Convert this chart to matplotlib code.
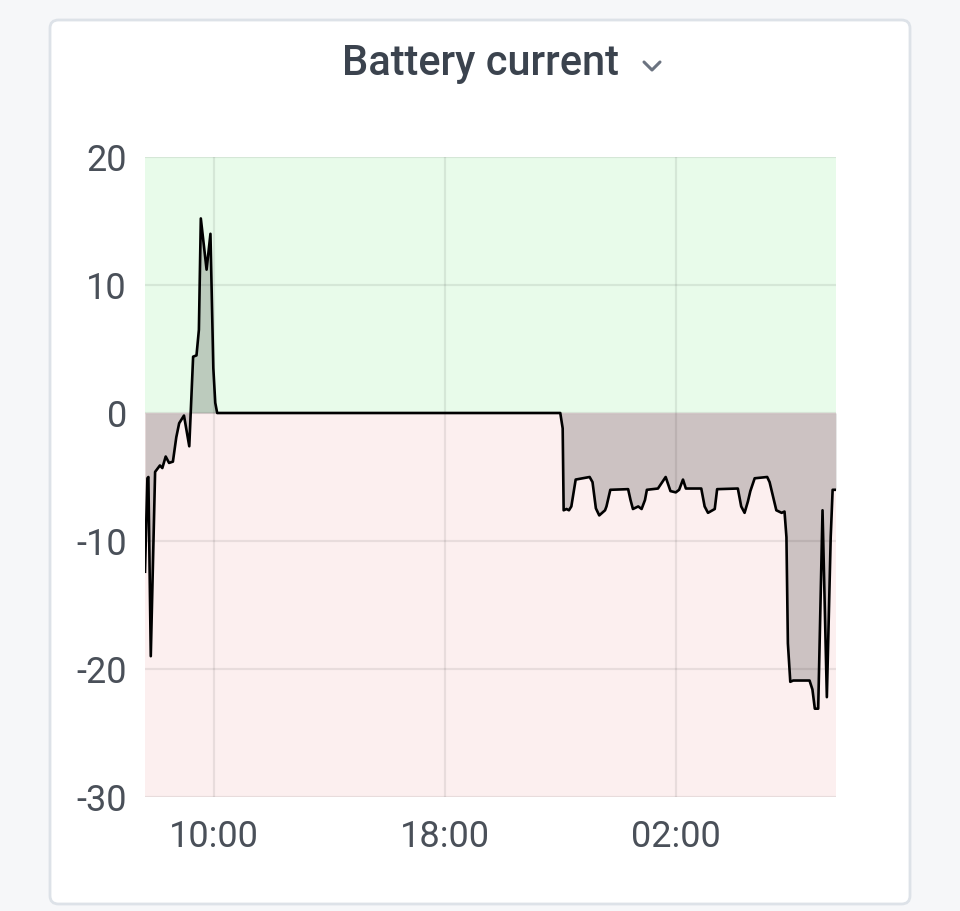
import matplotlib
matplotlib.use('Agg')
from matplotlib import pyplot as plt
import matplotlib.patches as patches
from matplotlib.lines import Line2D
import pandas as pd

plt.rcParams['font.family'] = ['Roboto', 'DejaVu Sans']
plt.rcParams['axes.unicode_minus'] = False

# Datos (hora local, corriente en A)
times = ['07:37', '07:42', '07:44', '07:49', '07:58', '08:08', '08:13', '08:20',
         '08:27', '08:35', '08:42', '08:48', '08:58', '09:09', '09:17', '09:24',
         '09:29', '09:33', '09:45', '09:53', '09:59', '10:03', '10:07', '22:00',
         '22:05', '22:07', '22:13', '22:18', '22:23', '22:32', '23:01', '23:07',
         '23:14', '23:21', '23:33', '23:36', '23:44', '00:21', '00:26', '00:31',
         '00:42', '00:49', '00:56', '01:00', '01:23', '01:39', '01:49', '02:00',
         '02:07', '02:15', '02:21', '02:53', '03:00', '03:07', '03:21', '03:26',
         '04:09', '04:16', '04:23', '04:30', '04:35', '04:44', '05:10', '05:15',
         '05:29', '05:40', '05:46', '05:50', '05:53', '05:58', '06:04', '06:38',
         '06:44', '06:49', '06:56', '07:05', '07:14', '07:22', '07:26', '07:33']
current = [-12.4, -5.1, -5.0, -19.0, -4.6, -4.1, -4.3, -3.4,
           -3.9, -3.8, -1.9, -0.8, -0.2, -2.6, 4.4, 4.5,
           6.5, 15.2, 11.2, 14.0, 3.5, 0.8, 0.0, 0.0,
           -1.2, -7.6, -7.5, -7.6, -7.3, -5.2, -5.0, -5.4,
           -7.45, -8.0, -7.6, -7.3, -6.0, -5.95, -6.8, -7.5,
           -7.3, -7.5, -6.8, -6.0, -5.9, -5.0, -6.1, -6.2,
           -6.0, -5.2, -5.9, -5.9, -7.3, -7.8, -7.5, -5.95,
           -5.9, -7.3, -7.8, -6.9, -6.1, -5.1, -5.0, -5.4,
           -7.6, -7.8, -7.7, -9.7, -18.0, -21.0, -20.9, -20.9,
           -21.6, -23.1, -23.1, -7.6, -22.2, -9.7, -6.0, -6.0]
x_ticks = ['10:00', '18:00', '02:00']
y_ticks = [-30, -20, -10, 0, 10, 20]

# Convertir horas a fechas (pasa la medianoche)
day = pd.Timestamp('2024-01-01')
stamps = []
prev = None
for t in times:
    ts = pd.Timestamp(f"{day.date()} {t}")
    if prev is not None and ts < prev:
        day = day + pd.Timedelta(days=1)
        ts = pd.Timestamp(f"{day.date()} {t}")
    stamps.append(ts)
    prev = ts
stamps = pd.to_datetime(stamps)

tick_stamps = [pd.Timestamp('2024-01-01 10:00'), pd.Timestamp('2024-01-01 18:00'),
               pd.Timestamp('2024-01-02 02:00')]

fig = plt.figure(figsize=(9.6, 9.11), dpi=100)
fig.patch.set_facecolor('#f6f7f9')

# Tarjeta (detrás de los ejes)
card = patches.FancyBboxPatch((50 / 960, 1 - 904 / 911), 860 / 960, 884 / 911,
                              boxstyle='round,pad=0,rounding_size=0.009',
                              transform=fig.transFigure, facecolor='white',
                              edgecolor='#dde2e8', linewidth=2, zorder=-10)
fig.add_artist(card)

fig.text(480 / 960, 1 - 64 / 911, 'Battery current', ha='center', va='center',
         fontsize=30, fontweight='medium', color='#3b434e')
# Flecha del menú
fig.add_artist(Line2D([644 / 960, 652 / 960, 660 / 960],
                      [1 - 62 / 911, 1 - 70 / 911, 1 - 62 / 911],
                      transform=fig.transFigure, color='#6b7380', linewidth=2.2,
                      solid_capstyle='round', solid_joinstyle='round'))

ax = fig.add_axes([145 / 960, 1 - 797 / 911, 691 / 960, 640 / 911])
ax.axhspan(0, 20, color='#e8fbea', zorder=0)
ax.axhspan(-30, 0, color='#fcefef', zorder=0)

ax.fill_between(stamps, current, 0, color='black', alpha=0.19, linewidth=0, zorder=2)
ax.plot(stamps, current, color='black', linewidth=1.9, zorder=3)

ax.set_ylim(-30, 20)
ax.set_xlim(stamps[0], stamps[-1])
ax.set_yticks(y_ticks)
ax.set_xticks(tick_stamps)
ax.set_xticklabels(x_ticks)
ax.grid(True, color='black', alpha=0.08, linewidth=1.6, zorder=1)
ax.set_axisbelow(True)
ax.tick_params(length=0, labelsize=26, labelcolor='#4a5059')
ax.tick_params(axis='y', pad=13)
ax.tick_params(axis='x', pad=16)
for s in ax.spines.values():
    s.set_visible(False)
ax.set_facecolor('none')

fig.savefig('out.png', dpi=100, facecolor=fig.get_facecolor())
